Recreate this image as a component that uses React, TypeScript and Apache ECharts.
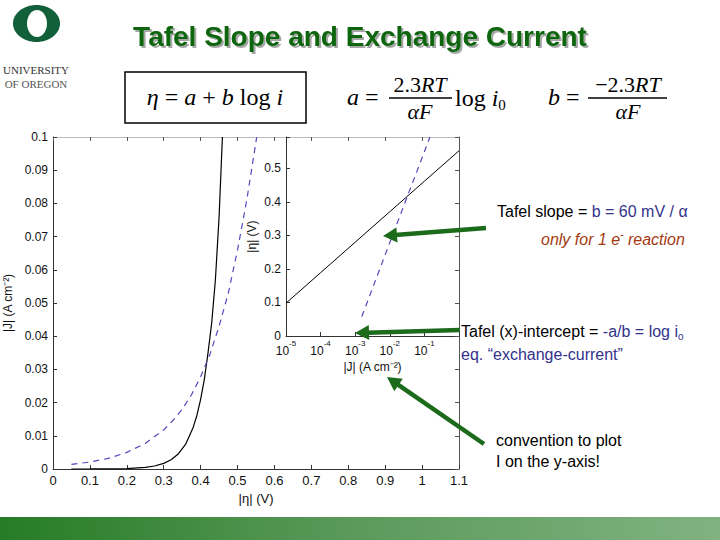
import React, { useEffect, useRef } from 'react';
import * as echarts from 'echarts';

// ---- main chart data: |eta| (V) vs |J| (A cm^-2)
const mainSolidEta = [0.05, 0.10, 0.15, 0.20, 0.25, 0.275, 0.30, 0.32, 0.34, 0.36, 0.38, 0.39, 0.40, 0.41, 0.42, 0.43, 0.44, 0.45, 0.459];
const mainSolidJ = [0.0, 0.00001, 0.00004, 0.00013, 0.00047, 0.0009, 0.0017, 0.0028, 0.0046, 0.0076, 0.0126, 0.0162, 0.021, 0.027, 0.035, 0.044, 0.057, 0.076, 0.1];
const mainDashEta = [0.05, 0.10, 0.15, 0.20, 0.25, 0.30, 0.325, 0.35, 0.375, 0.40, 0.425, 0.45, 0.475, 0.50, 0.525, 0.552];
const mainDashJ = [0.0014, 0.0021, 0.0032, 0.005, 0.0077, 0.0118, 0.0146, 0.018, 0.0223, 0.0278, 0.0345, 0.043, 0.053, 0.066, 0.081, 0.1];

// ---- inset data: |J| (log) vs |eta|
const insetSolidJ = [1e-5, 1e-4, 1e-3, 1e-2, 1e-1, 1];
const insetSolidEta = [0.098, 0.189, 0.28, 0.371, 0.462, 0.553];
const insetDashJ = [0.00155, 0.01, 0.145];
const insetDashEta = [0.058, 0.279, 0.594];

// ---- text
const titleText = 'Tafel Slope and Exchange Current';
const currentName = '|J| (A cm⁻²)';
const etaName = '|η| (V)';
const sans = '"Liberation Sans", Arial, Helvetica, sans-serif';
const serif = '"Liberation Serif", "Times New Roman", serif';
const GREEN = '#1b6b1b';
const BLUE = '#33338a';
const RED = '#a33a12';

const zip = (a: number[], b: number[]) => a.map((v, i) => [v, b[i]]);

function arrow(x1: number, y1: number, x2: number, y2: number) {
  const dx = x2 - x1, dy = y2 - y1;
  const L = Math.hypot(dx, dy);
  const ux = dx / L, uy = dy / L;
  const hl = 14, hw = 7.5;
  const bx = x2 - ux * hl, by = y2 - uy * hl;
  const px = -uy, py = ux;
  return [
    { type: 'line', z: 100, shape: { x1, y1, x2: bx + ux * 2, y2: by + uy * 2 }, style: { stroke: GREEN, lineWidth: 4.5 } },
    { type: 'polygon', z: 100, shape: { points: [[x2, y2], [bx + px * hw, by + py * hw], [bx - px * hw, by - py * hw]] }, style: { fill: GREEN } },
  ];
}

function txt(x: number, y: number, text: string, font: string, fill: string, align = 'left', rich?: any, extra?: any) {
  return {
    type: 'text', z: 100, x, y,
    style: Object.assign({ text, font, fill, align, verticalAlign: 'middle', textAlign: align, textVerticalAlign: 'middle', rich }, extra || {}),
  };
}

const eqRich = {
  n: { fontSize: 24, fontFamily: serif, fill: '#000', lineHeight: 28 },
  i: { fontSize: 24, fontFamily: serif, fontStyle: 'italic', fill: '#000', lineHeight: 28 },
  f: { fontSize: 22, fontFamily: serif, fill: '#000', lineHeight: 26 },
  fi: { fontSize: 22, fontFamily: serif, fontStyle: 'italic', fill: '#000', lineHeight: 26 },
  sub: { fontSize: 15, fontFamily: serif, fill: '#000', lineHeight: 14, verticalAlign: 'bottom' },
};

const annRich = {
  k: { fontSize: 16, fontFamily: sans, fill: '#000', lineHeight: 20 },
  b: { fontSize: 16, fontFamily: sans, fill: BLUE, lineHeight: 20 },
  bs: { fontSize: 10, fontFamily: sans, fill: BLUE, lineHeight: 10, verticalAlign: 'bottom' },
  r: { fontSize: 16, fontFamily: sans, fontStyle: 'italic', fill: RED, lineHeight: 20 },
  rs: { fontSize: 10, fontFamily: sans, fontStyle: 'italic', fill: RED, lineHeight: 10, verticalAlign: 'top' },
};

export default function App() {
  const ref = useRef<HTMLDivElement>(null);
  useEffect(() => {
    if (!ref.current) return;
    const chart = echarts.init(ref.current, undefined, { renderer: 'svg' });
    const axisLabelMain = { color: '#111', fontFamily: sans };
    const supRich = {
      b: { fontSize: 12, fontFamily: sans, color: '#111', lineHeight: 18, verticalAlign: 'bottom' },
      s: { fontSize: 8, fontFamily: sans, color: '#111', lineHeight: 10, verticalAlign: 'top' },
    };
    const nameStyle = { fontSize: 12, fontFamily: sans, color: '#111' };
    const option: any = {
      animation: false,
      backgroundColor: '#fff',
      grid: [
        { left: 53, top: 137, width: 406, height: 332, outerBoundsMode: 'none' },
        { left: 286, top: 137, width: 173, height: 199, outerBoundsMode: 'none' },
      ],
      xAxis: [
        {
          gridIndex: 0, type: 'value', position: 'bottom', min: 0, max: 1.1, interval: 0.1,
          axisLine: { show: true, onZero: false, lineStyle: { color: '#333', width: 1 } },
          axisTick: { show: true, inside: true, length: 4, lineStyle: { color: '#333' } },
          axisLabel: { ...axisLabelMain, fontSize: 13, margin: 5 },
          splitLine: { show: false },
          name: etaName, nameLocation: 'middle', nameGap: 18,
          nameTextStyle: { fontSize: 13, fontFamily: sans, color: '#111' },
        },
        {
          gridIndex: 0, type: 'value', position: 'top', min: 0, max: 1.1, interval: 0.1,
          axisLine: { show: true, onZero: false, lineStyle: { color: '#bbb', width: 1 } },
          axisTick: { show: true, inside: true, length: 4, lineStyle: { color: '#555' } },
          axisLabel: { show: false }, splitLine: { show: false },
        },
        {
          gridIndex: 1, type: 'log', logBase: 10, position: 'bottom', min: 1e-5, max: 1, splitNumber: 5,
          axisLine: { show: true, onZero: false, lineStyle: { color: '#333', width: 1 } },
          axisTick: { show: true, inside: true, length: 4, lineStyle: { color: '#333' } },
          axisLabel: {
            margin: 3,
            formatter: (v: number) => {
              const e = Math.round(Math.log10(v));
              return e >= 0 ? '' : `{b|10}{s|${e}}`;
            },
            rich: supRich,
          },
          splitLine: { show: false },
          name: currentName, nameLocation: 'middle', nameGap: 25,
          nameTextStyle: nameStyle,
        },
      ],
      yAxis: [
        {
          gridIndex: 0, type: 'value', position: 'left', min: 0, max: 0.1, interval: 0.01,
          axisLine: { show: true, onZero: false, lineStyle: { color: '#333', width: 1 } },
          axisTick: { show: true, inside: true, length: 4, lineStyle: { color: '#333' } },
          axisLabel: { ...axisLabelMain, fontSize: 12, margin: 5 },
          splitLine: { show: false },
          name: currentName, nameLocation: 'middle', nameGap: 34,
          nameTextStyle: nameStyle,
        },
        {
          gridIndex: 0, type: 'value', position: 'right', min: 0, max: 0.1, interval: 0.01,
          axisLine: { show: true, onZero: false, lineStyle: { color: '#555', width: 1 } },
          axisTick: { show: true, inside: true, length: 4, lineStyle: { color: '#555' } },
          axisLabel: { show: false }, splitLine: { show: false },
        },
        {
          gridIndex: 1, type: 'value', position: 'left', min: 0, max: 0.594, interval: 0.1,
          axisLine: { show: true, onZero: false, lineStyle: { color: '#333', width: 1 } },
          axisTick: { show: true, inside: true, length: 4, lineStyle: { color: '#333' } },
          axisLabel: {
            ...axisLabelMain, fontSize: 12, margin: 5,
            formatter: (v: number) => {
              const t = Math.round(v * 10);
              return Math.abs(v * 10 - t) < 1e-6 && t <= 5 ? String(t / 10) : '';
            },
          },
          splitLine: { show: false },
          name: etaName, nameLocation: 'middle', nameGap: 28,
          nameTextStyle: nameStyle,
        },
      ],
      series: [
        {
          type: 'line', xAxisIndex: 0, yAxisIndex: 0, data: zip(mainSolidEta, mainSolidJ),
          smooth: false, showSymbol: false, symbol: 'none',
          lineStyle: { color: '#000', width: 1.2 },
        },
        {
          type: 'line', xAxisIndex: 0, yAxisIndex: 0, data: zip(mainDashEta, mainDashJ),
          smooth: false, showSymbol: false, symbol: 'none',
          lineStyle: { color: '#5548c0', width: 1.2, type: [6, 5] },
        },
        {
          type: 'line', xAxisIndex: 2, yAxisIndex: 2, data: zip(insetSolidJ, insetSolidEta),
          showSymbol: false, symbol: 'none', lineStyle: { color: '#000', width: 1 },
        },
        {
          type: 'line', xAxisIndex: 2, yAxisIndex: 2, data: zip(insetDashJ, insetDashEta),
          showSymbol: false, symbol: 'none', lineStyle: { color: '#5548c0', width: 1.2, type: [6, 5] },
        },
      ],
      graphic: [
        // bottom gradient bar
        {
          type: 'rect', z: 50, shape: { x: 0, y: 517, width: 720, height: 23 },
          style: {
            fill: new echarts.graphic.LinearGradient(0, 0, 1, 0, [
              { offset: 0, color: '#267c26' },
              { offset: 0.5, color: '#5c9a5c' },
              { offset: 1, color: '#80b280' },
            ]),
          },
        },
        // logo
        { type: 'ellipse', z: 50, shape: { cx: 36.5, cy: 23.5, rx: 23.5, ry: 18.5 }, style: { fill: '#11603a' } },
        { type: 'ellipse', z: 51, shape: { cx: 37, cy: 23.5, rx: 10, ry: 13.5 }, style: { fill: '#fff' } },
        txt(36, 70, 'UNIVERSITY', `11px ${serif}`, '#333', 'center'),
        txt(36, 84, 'OF OREGON', `11px ${serif}`, '#555', 'center'),
        // title
        txt(360, 36, titleText, `bold 28px ${sans}`, '#0f650f', 'center', undefined, {
          textShadowColor: 'rgba(0,0,0,0.35)', textShadowOffsetX: 2, textShadowOffsetY: 2, textShadowBlur: 1,
        }),
        // equation box
        { type: 'rect', z: 50, shape: { x: 125, y: 72, width: 181, height: 51 }, style: { fill: '#fff', stroke: '#000', lineWidth: 1.5 } },
        txt(215, 97, '{i|η}{n| = }{i|a}{n| + }{i|b}{n| log }{i|i}', `24px ${serif}`, '#000', 'center', eqRich),
        // a = 2.3RT/(alpha F) log i0
        txt(347, 97, '{i|a}{n| =}', `24px ${serif}`, '#000', 'left', eqRich),
        txt(420, 84, '{f|2.3}{fi|RT}', `22px ${serif}`, '#000', 'center', eqRich),
        { type: 'line', z: 100, shape: { x1: 389, y1: 98, x2: 452, y2: 98 }, style: { stroke: '#000', lineWidth: 1.3 } },
        txt(420, 111, '{fi|αF}', `22px ${serif}`, '#000', 'center', eqRich),
        txt(455, 98, '{n|log }{i|i}{sub|0}', `24px ${serif}`, '#000', 'left', eqRich),
        // b = -2.3RT/(alpha F)
        txt(548, 97, '{i|b}{n| =}', `24px ${serif}`, '#000', 'left', eqRich),
        txt(628, 84, '{f|−2.3}{fi|RT}', `22px ${serif}`, '#000', 'center', eqRich),
        { type: 'line', z: 100, shape: { x1: 588, y1: 98, x2: 667, y2: 98 }, style: { stroke: '#000', lineWidth: 1.3 } },
        txt(628, 111, '{fi|αF}', `22px ${serif}`, '#000', 'center', eqRich),
        // annotations
        txt(497, 211, '{k|Tafel slope = }{b|b = 60 mV / α}', `16px ${sans}`, '#000', 'left', annRich),
        txt(541, 239, '{r|only for 1 e}{rs|-}{r| reaction}', `italic 16px ${sans}`, RED, 'left', annRich),
        txt(461, 331, '{k|Tafel (x)-intercept = }{b|-a/b = log i}{bs|o}', `16px ${sans}`, '#000', 'left', annRich),
        txt(461, 354, '{b|eq. “exchange-current”}', `16px ${sans}`, BLUE, 'left', annRich),
        txt(496, 440, 'convention to plot', `16px ${sans}`, '#000', 'left'),
        txt(496, 461, 'I on the y-axis!', `16px ${sans}`, '#000', 'left'),
        // arrows
        ...arrow(486, 228, 383, 236),
        ...arrow(460, 330, 355, 333),
        ...arrow(484, 444, 387, 377),
      ],
    };
    chart.setOption(option);
    return () => chart.dispose();
  }, []);
  return (
    <div
      ref={ref}
      style={{ position: 'fixed', left: 0, top: 0, width: 720, height: 540, background: '#fff' }}
    />
  );
}
